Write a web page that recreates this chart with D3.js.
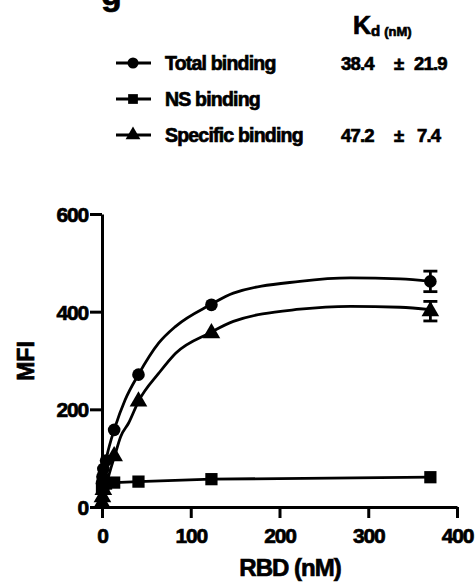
<!DOCTYPE html>
<html>
<head>
<meta charset="UTF-8" />
<title>RBD binding</title>
<script src="https://d3js.org/d3.v7.min.js"></script>
<style>
  body { margin: 0; background: #fff; }
  text { font-family: "Liberation Sans", Arial, sans-serif; font-weight: bold; fill: #000; stroke: #000; stroke-width: 0.7px; }
</style>
</head>
<body>
<div id="chart"></div>
<script>
// measured points (RBD nM)
var conc        = [0, 0.51, 1.52, 4.57, 13.7, 41.1, 123.3, 370];
var totalMFI    = [48, 62, 78, 95, 158, 271, 414, 462];
var totalErr    = [2, 2, 3, 3, 4, 4, 4, 21];
var nsMFI       = [40, 44, 46, 48, 50, 52, 57, 61];
var specificMFI = [8, 20, 35, 50, 104, 216, 356, 401];
var specificErr = [2, 2, 3, 3, 4, 4, 4, 20];

// fitted curves
var totalFitX = [0, 5, 15, 26, 41, 64, 83, 122, 148, 223, 280, 336, 370];
var totalFitY = [50, 100, 165, 219, 271, 336, 370, 414, 438, 462, 469, 467, 462];
var specFitX  = [0, 5, 15, 21, 30, 41, 64, 83, 122, 148, 223, 280, 336, 370];
var specFitY  = [0, 45, 109, 144, 172, 216, 274, 315, 357, 380, 405, 411, 409, 404];

var xTicks = [0, 100, 200, 300, 400];
var yTicks = [0, 200, 400, 600];

var legendNames = ["Total binding", "NS binding", "Specific binding"];
var legendKd    = ["38.4", "", "47.2"];
var legendSd    = ["21.9", "", "7.4"];
var symbols     = [d3.symbolCircle, d3.symbolSquare, d3.symbolTriangle];

var W = 476, H = 587;
var svg = d3.select("#chart").append("svg").attr("width", W).attr("height", H);

var x = d3.scaleLinear().domain([0, 400]).range([102, 457]);
var y = d3.scaleLinear().domain([0, 600]).range([507, 214]);

// axes
var xAxis = svg.append("g")
  .attr("transform", "translate(0," + y(0) + ")")
  .call(d3.axisBottom(x).tickValues(xTicks).tickSize(11).tickSizeOuter(0).tickPadding(10));
var yAxis = svg.append("g")
  .attr("transform", "translate(" + x(0) + ",0)")
  .call(d3.axisLeft(y).tickValues(yTicks).tickSize(12).tickSizeOuter(0).tickPadding(2));
[xAxis, yAxis].forEach(function(a) {
  a.select(".domain").attr("stroke", "#000").attr("stroke-width", 3);
  a.selectAll(".tick line").attr("stroke", "#000").attr("stroke-width", 3);
  a.selectAll(".tick text").style("font-size", "21px").style("letter-spacing", "-1.2px").attr("fill", "#000");
});
yAxis.selectAll(".tick text").attr("dy", "0.36em");

// axis titles
svg.append("text")
  .attr("transform", "translate(34,361) rotate(-90)")
  .attr("text-anchor", "middle")
  .style("font-size", "23px")
  .text("MFI");
svg.append("text")
  .attr("x", 290).attr("y", 576)
  .attr("text-anchor", "middle")
  .style("font-size", "24px")
  .style("letter-spacing", "-1px")
  .text("RBD (nM)");

// curves
var line = d3.line().x(function(d) { return x(d[0]); }).y(function(d) { return y(d[1]); });
var curves = [
  { pts: d3.zip(totalFitX, totalFitY), c: d3.curveMonotoneX },
  { pts: d3.zip(conc, nsMFI), c: d3.curveLinear },
  { pts: d3.zip(specFitX, specFitY), c: d3.curveMonotoneX }
];
curves.forEach(function(s) {
  svg.append("path")
    .attr("d", line.curve(s.c)(s.pts))
    .attr("fill", "none").attr("stroke", "#000").attr("stroke-width", 2.8);
});

// error bars (Prism hides bars shorter than the marker)
function errBars(vals, errs) {
  conc.forEach(function(c, i) {
    if (y(vals[i] - errs[i]) - y(vals[i] + errs[i]) < 14) return;
    var g = svg.append("g").attr("stroke", "#000").attr("stroke-width", 2.8);
    var x0 = x(c), y1 = y(vals[i] + errs[i]), y2 = y(vals[i] - errs[i]);
    g.append("line").attr("x1", x0).attr("x2", x0).attr("y1", y1).attr("y2", y2);
    g.append("line").attr("x1", x0 - 7).attr("x2", x0 + 7).attr("y1", y1).attr("y2", y1);
    g.append("line").attr("x1", x0 - 7).attr("x2", x0 + 7).attr("y1", y2).attr("y2", y2);
  });
}
errBars(totalMFI, totalErr);
errBars(specificMFI, specificErr);

// markers
var series = [totalMFI, nsMFI, specificMFI];
var sizes = [125, 150, 135];
series.forEach(function(vals, k) {
  svg.append("g").selectAll("path")
    .data(vals)
    .enter().append("path")
      .attr("d", d3.symbol().type(symbols[k]).size(sizes[k]))
      .attr("transform", function(d, i) { return "translate(" + x(conc[i]) + "," + y(d) + ")"; })
      .attr("fill", "#000");
});

// panel letter (cut by the top edge as in the source)
svg.append("text").attr("x", 101).attr("y", 5).style("font-size", "34px").text("g");

// Kd header
var kd = svg.append("text").attr("x", 353).attr("y", 34);
kd.append("tspan").style("font-size", "25px").text("K");
kd.append("tspan").style("font-size", "15px").attr("dy", 2).text("d");
kd.append("tspan").style("font-size", "13px").attr("dx", 4).text("(nM)");

// legend
var rowsY = [63, 99, 135];
legendNames.forEach(function(name, i) {
  var g = svg.append("g").attr("transform", "translate(0," + rowsY[i] + ")");
  g.append("line").attr("x1", 116).attr("x2", 151).attr("stroke", "#000").attr("stroke-width", 2.8);
  g.append("path").attr("d", d3.symbol().type(symbols[i]).size(95)).attr("transform", "translate(133,0)");
  g.append("text").attr("x", 165).attr("y", 7).style("font-size", "19.5px").style("letter-spacing", "-0.8px").text(name);
  if (legendKd[i]) {
    g.append("text").attr("x", 341).attr("y", 7).style("font-size", "18.5px").style("letter-spacing", "-0.8px").text(legendKd[i]);
    g.append("text").attr("x", 394).attr("y", 7).style("font-size", "18.5px").text("±");
    g.append("text").attr("x", legendSd[i].length > 3 ? 414 : 417).attr("y", 7).style("font-size", "18.5px").style("letter-spacing", "-0.8px").text(legendSd[i]);
  }
});
</script>
</body>
</html>
